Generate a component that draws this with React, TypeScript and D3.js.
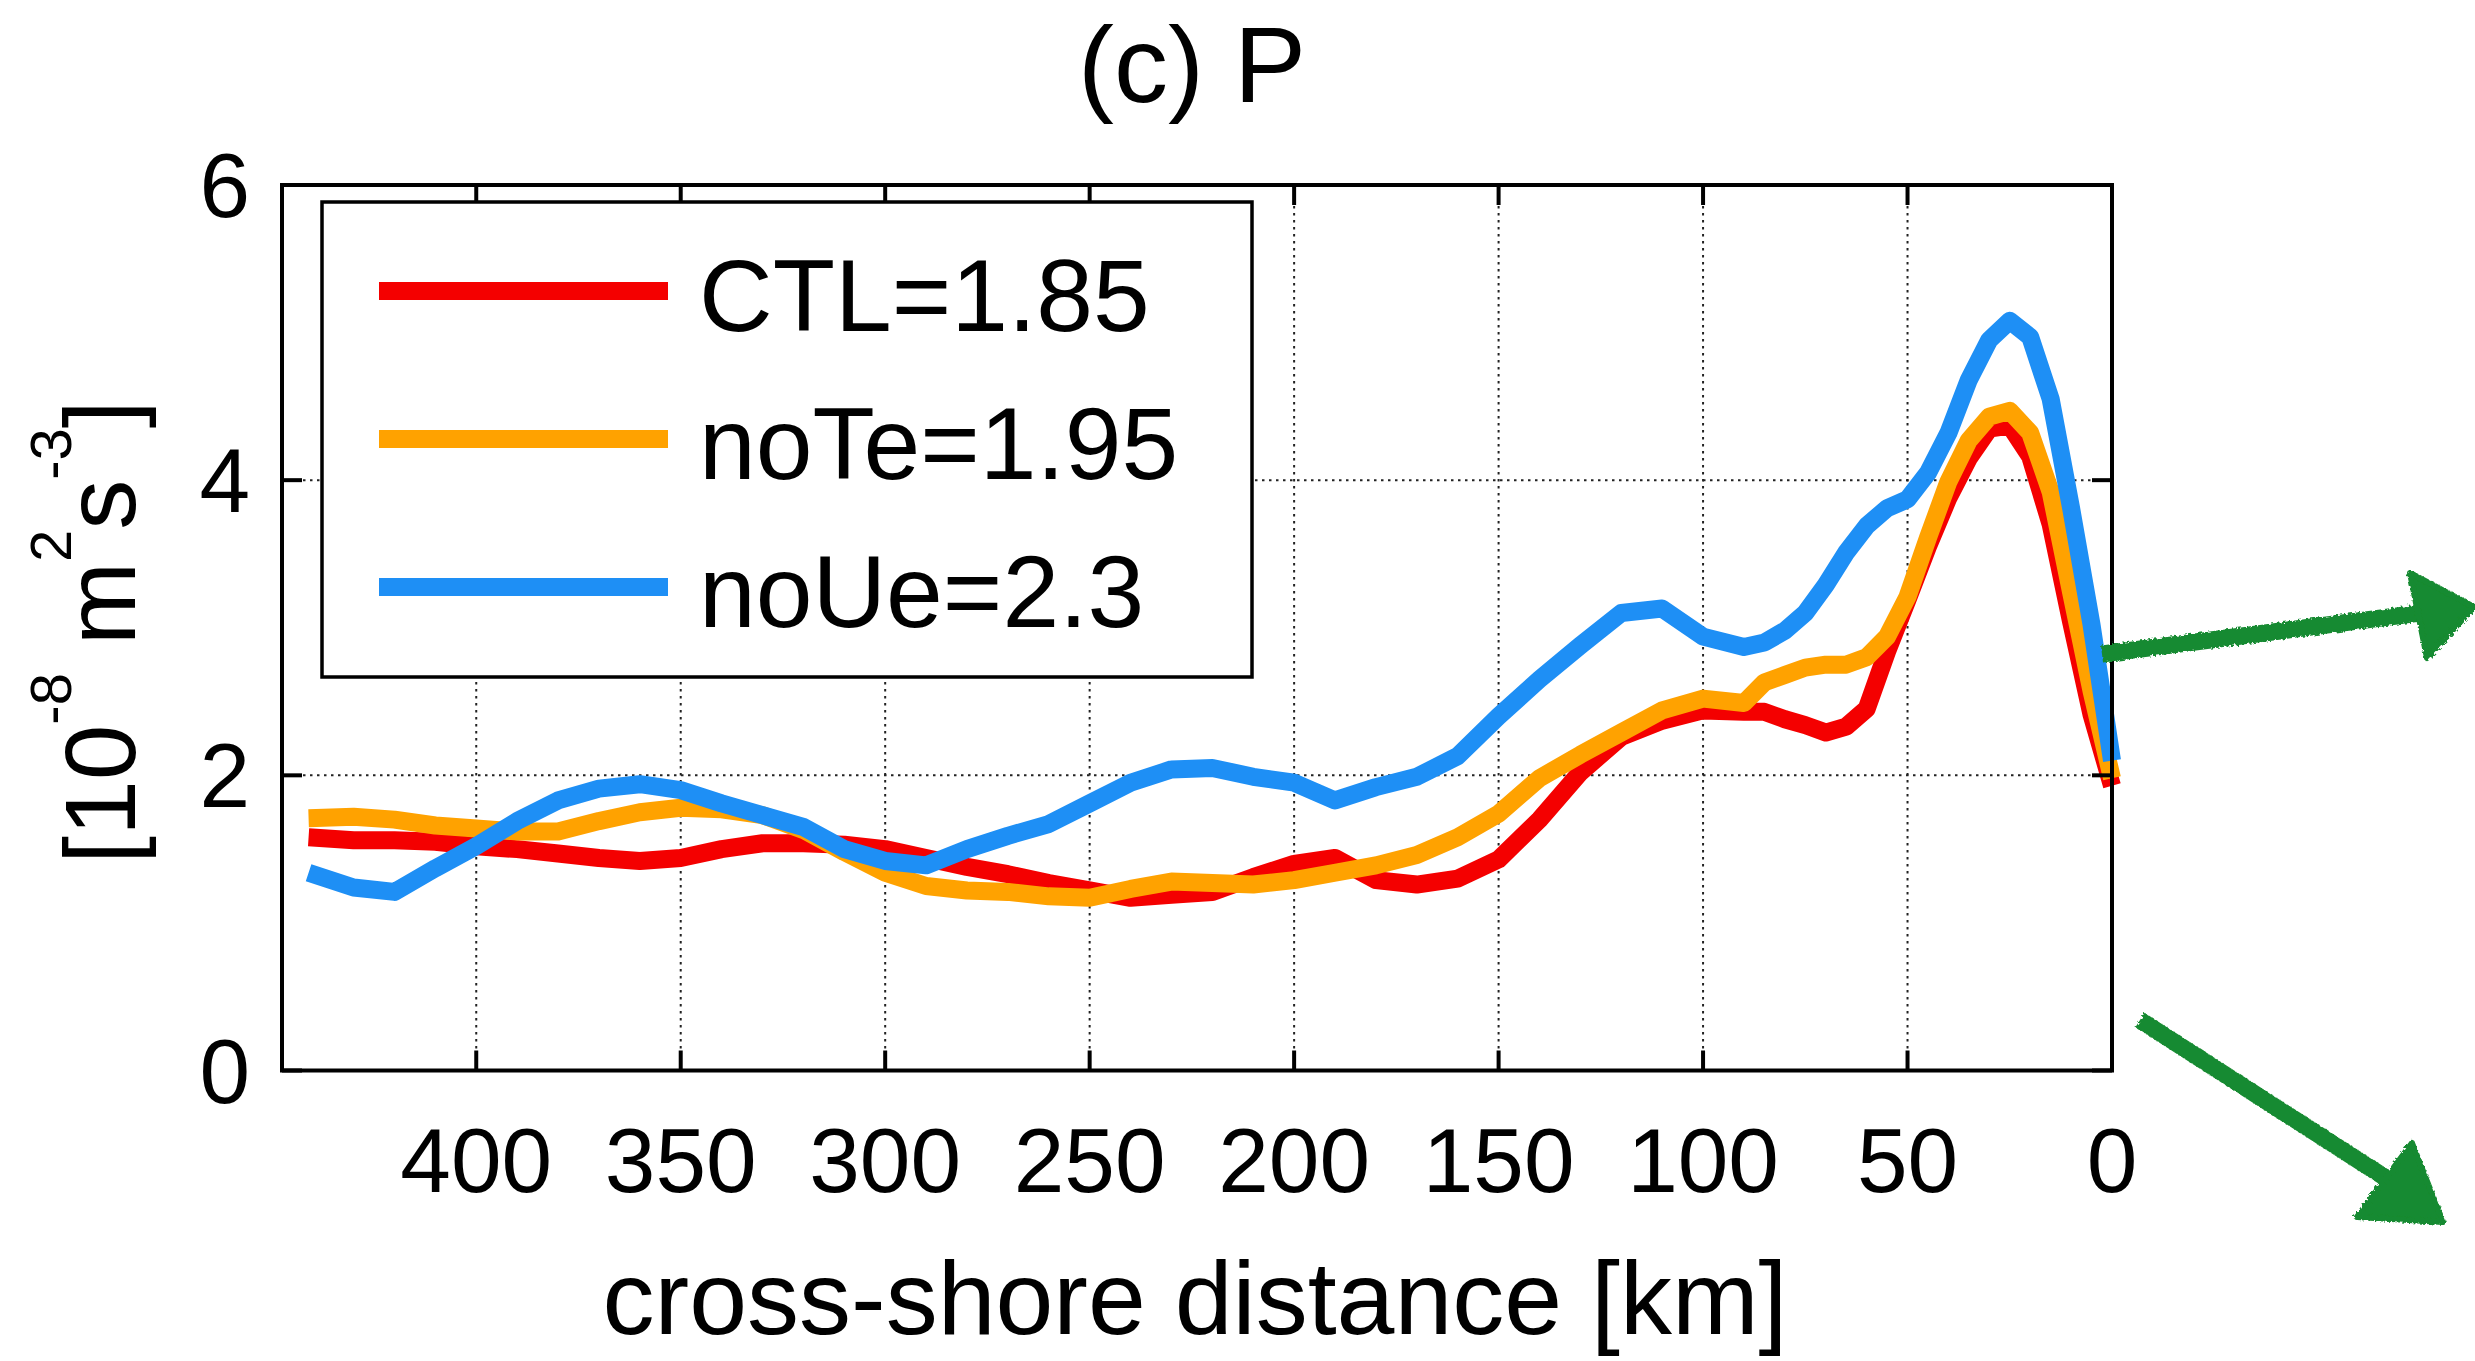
import React from "react";
import * as d3 from "d3";

// cross-shore distance of each sample [km]
const distanceKm = [
  441, 430, 420, 410, 400, 390, 380, 370, 360, 350, 340, 330, 320, 310, 300, 290, 280, 270,
  260, 250, 240, 230, 220, 210, 200, 190, 180, 170, 160, 150, 140, 130, 120, 110, 100, 90,
  85, 80, 75, 70, 65, 60, 55, 50, 45, 40, 35, 30, 25, 20, 15, 10, 5, 0,
];

// P [10^-8 m^2 s^-3]
const ctlValues = [
  1.58, 1.56, 1.56, 1.55, 1.52, 1.5, 1.47, 1.44, 1.42, 1.44, 1.5, 1.54, 1.54, 1.53, 1.5, 1.44, 1.38, 1.33,
  1.27, 1.22, 1.17, 1.19, 1.21, 1.31, 1.4, 1.44, 1.29, 1.26, 1.3, 1.43, 1.7, 2.02, 2.26, 2.37, 2.44, 2.43,
  2.43, 2.38, 2.34, 2.29, 2.33, 2.45, 2.84, 3.19, 3.55, 3.88, 4.15, 4.35, 4.37, 4.16, 3.7, 3.04, 2.41, 1.93,
];
const noTeValues = [
  1.71, 1.72, 1.7, 1.66, 1.64, 1.62, 1.62, 1.69, 1.75, 1.78, 1.77, 1.73, 1.63, 1.48, 1.34, 1.25, 1.22, 1.21,
  1.18, 1.17, 1.23, 1.28, 1.27, 1.26, 1.29, 1.34, 1.39, 1.46, 1.58, 1.74, 1.98, 2.14, 2.29, 2.44, 2.52, 2.49,
  2.63, 2.68, 2.73, 2.75, 2.75, 2.8, 2.94, 3.21, 3.61, 3.99, 4.27, 4.43, 4.47, 4.32, 3.92, 3.24, 2.57, 1.98,
];
const noUeValues = [
  1.34, 1.24, 1.21, 1.37, 1.52, 1.69, 1.83, 1.91, 1.94, 1.9, 1.81, 1.73, 1.65, 1.5, 1.42, 1.39, 1.5, 1.59,
  1.67, 1.81, 1.95, 2.04, 2.05, 1.99, 1.95, 1.83, 1.92, 1.99, 2.13, 2.4, 2.65, 2.88, 3.1, 3.13, 2.94, 2.87,
  2.9, 2.98, 3.1, 3.29, 3.51, 3.69, 3.81, 3.87, 4.05, 4.32, 4.68, 4.95, 5.08, 4.97, 4.55, 3.81, 3.02, 2.1,
];

const seriesNames = ["CTL=1.85", "noTe=1.95", "noUe=2.3"];
const seriesColors = ["#f40000", "#ffa200", "#1e8ff5"];

const xTicks = [400, 350, 300, 250, 200, 150, 100, 50, 0];
const yTicks = [0, 2, 4, 6];

const FONT = "'Liberation Sans', Arial, Helvetica, sans-serif";
const W = 2475;
const H = 1361;
const plot = { left: 282, right: 2112, top: 185, bottom: 1070.5 };

export default function App() {
  const x = d3.scaleLinear().domain([447.5, 0]).range([plot.left, plot.right]);
  const y = d3.scaleLinear().domain([0, 6]).range([plot.bottom, plot.top]);
  const allSeries = [ctlValues, noTeValues, noUeValues];

  const lineGen = d3
    .line<number>()
    .x((_, i) => x(distanceKm[i]))
    .y((d) => y(d));

  const tickLen = 20;
  const green = "#168a30";

  return (
    <svg
      width={W}
      height={H}
      viewBox={`0 0 ${W} ${H}`}
      style={{ position: "fixed", left: 0, top: 0, background: "#fff" }}
      fontFamily={FONT}
    >
      <defs>
        {/* rough edge for the hand-drawn arrows */}
        <filter id="rough" x="-10%" y="-10%" width="120%" height="120%">
          <feTurbulence type="fractalNoise" baseFrequency="0.35" numOctaves={2} seed={3} />
          <feDisplacementMap in="SourceGraphic" scale={5} />
        </filter>
      </defs>
      <rect x={0} y={0} width={W} height={H} fill="#fff" />

      {/* title */}
      <text x={1192} y={102} fontSize={108} textAnchor="middle" fill="#000">
        (c) P
      </text>

      {/* grid */}
      <g stroke="#222" strokeWidth={2} strokeDasharray="2.5 4.5">
        {xTicks
          .filter((t) => t !== 0)
          .map((t) => (
            <line key={"gx" + t} x1={x(t)} x2={x(t)} y1={plot.top} y2={plot.bottom} />
          ))}
        {yTicks
          .filter((t) => t !== 0 && t !== 6)
          .map((t) => (
            <line key={"gy" + t} x1={plot.left} x2={plot.right} y1={y(t)} y2={y(t)} />
          ))}
      </g>

      {/* data */}
      <g fill="none" strokeWidth={18} strokeLinejoin="round" strokeLinecap="butt">
        {allSeries.map((vals, i) => (
          <path key={seriesNames[i]} d={lineGen(vals) || ""} stroke={seriesColors[i]} />
        ))}
      </g>

      {/* axes box and ticks */}
      <g stroke="#000" strokeWidth={4} fill="none">
        <rect x={plot.left} y={plot.top} width={plot.right - plot.left} height={plot.bottom - plot.top} />
        {xTicks.map((t) => (
          <g key={"tx" + t}>
            <line x1={x(t)} x2={x(t)} y1={plot.bottom} y2={plot.bottom - tickLen} />
            <line x1={x(t)} x2={x(t)} y1={plot.top} y2={plot.top + tickLen} />
          </g>
        ))}
        {yTicks.map((t) => (
          <g key={"ty" + t}>
            <line x1={plot.left} x2={plot.left + tickLen} y1={y(t)} y2={y(t)} />
            <line x1={plot.right} x2={plot.right - tickLen} y1={y(t)} y2={y(t)} />
          </g>
        ))}
      </g>

      {/* tick labels */}
      <g fontSize={91} fill="#000">
        {xTicks.map((t) => (
          <text key={"lx" + t} x={x(t)} y={1192} textAnchor="middle">
            {t}
          </text>
        ))}
        {yTicks.map((t) => (
          <text key={"ly" + t} x={250} y={y(t) + 32} textAnchor="end">
            {t}
          </text>
        ))}
      </g>

      {/* axis labels */}
      <text x={1195} y={1334} fontSize={104} textAnchor="middle" fill="#000">
        cross-shore distance [km]
      </text>
      <text
        transform="translate(135, 632) rotate(-90)"
        fontSize={100}
        textAnchor="middle"
        fill="#000"
      >
        <tspan>[10</tspan>
        <tspan fontSize={58} dy={-64}>-8</tspan>
        <tspan dy={64}> m</tspan>
        <tspan fontSize={58} dy={-64}>2</tspan>
        <tspan dy={64}>s</tspan>
        <tspan fontSize={58} dy={-64}>-3</tspan>
        <tspan dy={64}>]</tspan>
      </text>

      {/* legend */}
      <g>
        <rect x={322} y={202} width={930} height={475} fill="#fff" stroke="#000" strokeWidth={3.5} />
        {seriesNames.map((name, i) => {
          const ly = 291 + i * 148;
          return (
            <g key={"leg" + name}>
              <line x1={379} x2={668} y1={ly} y2={ly} stroke={seriesColors[i]} strokeWidth={18} />
              <text x={699} y={ly + 40} fontSize={102} fill="#000">
                {name}
              </text>
            </g>
          );
        })}
      </g>

      {/* hand-drawn arrows */}
      <g fill={green} stroke={green} strokeLinejoin="round" filter="url(#rough)">
        <line x1={2102} y1={654} x2={2420} y2={613} strokeWidth={17} />
        <polygon points="2410,573 2474,607 2427,658" strokeWidth={6} />
        <line x1={2140} y1={1020} x2={2392} y2={1182} strokeWidth={17} />
        <polygon points="2412,1143 2443,1222 2357,1217" strokeWidth={6} />
      </g>
    </svg>
  );
}
